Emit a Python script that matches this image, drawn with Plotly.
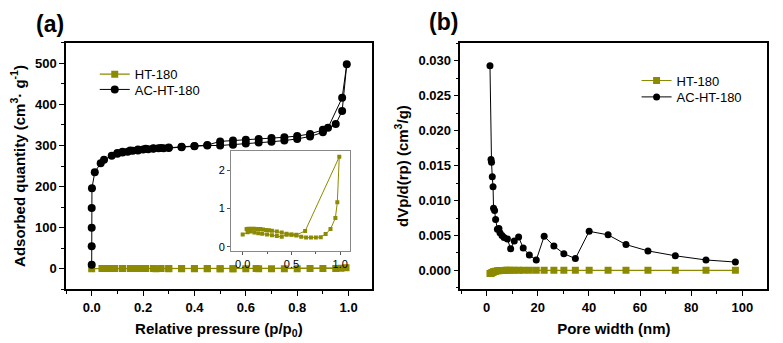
import plotly.graph_objects as go

# ---------- data: panel (a) N2 isotherms ----------
ac_p = [0.0, 0.0, 0.0, 0.0, 0.001, 0.012, 0.035, 0.048, 0.078, 0.10, 0.12, 0.14, 0.16, 0.18, 0.20,
        0.22, 0.24, 0.26, 0.28, 0.30, 0.35, 0.40, 0.45, 0.50, 0.55, 0.60, 0.65, 0.70, 0.75,
        0.80, 0.85, 0.90, 0.95, 0.975, 0.993,
        0.975, 0.92, 0.90, 0.85, 0.80, 0.75, 0.70, 0.65, 0.60, 0.55, 0.50, 0.45, 0.40, 0.35,
        0.30, 0.27, 0.24, 0.21, 0.18, 0.15, 0.12, 0.10]
ac_q = [10, 55, 100, 148, 196, 235, 257, 265, 275, 280, 283, 285, 287, 288, 290,
        291, 292, 293, 293, 294, 296, 298, 300, 300, 302, 305, 307, 309, 312,
        316, 322, 332, 352, 384, 498,
        416, 343, 338, 328, 323, 320, 318, 316, 314, 312, 310, 301, 299, 297,
        295, 294, 293, 292, 290, 288, 285, 282]

ht_p = [0.0, 0.05, 0.08, 0.12, 0.16, 0.20, 0.25, 0.30, 0.35, 0.40, 0.45, 0.50, 0.55, 0.60,
        0.65, 0.70, 0.75, 0.80, 0.85, 0.90, 0.95, 0.97, 0.99,
        0.64, 0.55, 0.50, 0.45, 0.40, 0.35, 0.30, 0.27, 0.24, 0.21, 0.18, 0.15, 0.12, 0.09, 0.06, 0.04]
ht_q = [0.32, 0.38, 0.40, 0.37, 0.35, 0.34, 0.32, 0.30, 0.28, 0.26, 0.31, 0.31, 0.29, 0.26,
        0.24, 0.24, 0.24, 0.25, 0.33, 0.46, 0.75, 1.16, 2.35,
        0.41, 0.31, 0.32, 0.34, 0.37, 0.40, 0.42, 0.43, 0.44, 0.45, 0.46, 0.46, 0.47, 0.47, 0.47, 0.46]

# ---------- data: panel (b) pore size distribution ----------
pw_ac = [1.3, 1.7, 1.9, 2.2, 2.5, 2.7, 3.1, 3.5, 4.2, 4.8, 5.2, 6.0, 6.8, 8.1, 9.4, 10.8, 12.5,
         14.3, 16.7, 19.4, 22.5, 26.3, 30.2, 34.7, 40.1, 47.5, 54.5, 63.1, 73.8, 85.8, 97.3]
dv_ac = [0.0293, 0.0159, 0.0155, 0.0134, 0.0120, 0.0089, 0.0086, 0.0073, 0.0059, 0.0060, 0.0054,
         0.0050, 0.0047, 0.0045, 0.0031, 0.0042, 0.0048, 0.0032, 0.0022, 0.0015, 0.0049, 0.0035,
         0.0024, 0.0017, 0.0056, 0.0051, 0.0037, 0.0028, 0.0021, 0.0015, 0.0012]

pw_ht = [1.3, 1.7, 1.9, 2.2, 2.5, 2.7, 3.1, 3.5, 4.2, 4.8, 5.2, 6.0, 6.8, 7.5, 8.1, 9.4, 10.8,
         12.5, 14.3, 16.7, 19.4, 22.5, 26.3, 30.2, 34.7, 40.1, 47.5, 54.5, 63.1, 73.8, 85.8, 97.3]
dv_ht = [-0.00045, -0.0004, -0.00035, -0.0003, -0.00025, -0.0002, -0.00015, -0.0001, -0.00006,
         -0.00003, -0.00002, 0.0, 0.00001, 0.00002, 0.00002, 0.00002, 0.00002, 0.00002, 0.00002,
         0.00002, 0.00002, 0.00002, 0.00002, 0.00002, 0.00002, 0.00002, 0.00002, 0.00002,
         0.00002, 0.00002, 0.00002, 0.00002]

OLIVE = "#8c8a00"
FONT = "Liberation Sans, Arial, sans-serif"

fig = go.Figure()

# panel (a)
fig.add_trace(go.Scatter(x=ht_p, y=ht_q, mode="lines+markers", name="HT-180",
                         line=dict(color=OLIVE, width=1.2),
                         marker=dict(symbol="square", size=7, color=OLIVE),
                         xaxis="x", yaxis="y", legend="legend"))
fig.add_trace(go.Scatter(x=ac_p, y=ac_q, mode="lines+markers", name="AC-HT-180",
                         line=dict(color="black", width=1),
                         marker=dict(symbol="circle", size=8, color="black"),
                         xaxis="x", yaxis="y", legend="legend2"))
# inset
fig.add_trace(go.Scatter(x=ht_p, y=ht_q, mode="lines+markers", name="HT-180",
                         line=dict(color=OLIVE, width=1),
                         marker=dict(symbol="square", size=4, color=OLIVE),
                         xaxis="x3", yaxis="y3", showlegend=False))
# panel (b)
fig.add_trace(go.Scatter(x=pw_ht, y=dv_ht, mode="lines+markers", name="HT-180",
                         line=dict(color=OLIVE, width=1.2),
                         marker=dict(symbol="square", size=7, color=OLIVE),
                         xaxis="x2", yaxis="y2", legend="legend3"))
fig.add_trace(go.Scatter(x=pw_ac, y=dv_ac, mode="lines+markers", name="AC-HT-180",
                         line=dict(color="black", width=1),
                         marker=dict(symbol="circle", size=7, color="black"),
                         xaxis="x2", yaxis="y2", legend="legend4"))

tickfont = dict(family=FONT, size=13, color="black", weight="bold")
titlefont = dict(family=FONT, size=15, color="black", weight="bold")

def ax(**kw):
    base = dict(showgrid=False, zeroline=False, showline=True, linecolor="black", linewidth=1.5,
                mirror=True, ticks="outside", ticklen=5, tickwidth=1.3, tickcolor="black",
                tickfont=tickfont)
    base.update(kw)
    return base

def leg(x, y):
    return dict(x=x, y=y, xanchor="left", yanchor="middle", bgcolor="rgba(0,0,0,0)",
                font=dict(family=FONT, size=13, color="black"), itemwidth=30)

minor_b = dict(ticks="outside", ticklen=3, tickwidth=1.2, tickcolor="black")

fig.update_layout(
    width=783, height=343, margin=dict(l=0, r=0, t=0, b=0),
    paper_bgcolor="white", plot_bgcolor="white", showlegend=True,
    xaxis=ax(domain=[0.0843, 0.4747], range=[-0.1, 1.09], anchor="y",
             tickvals=[0, 0.2, 0.4, 0.6, 0.8, 1.0], ticktext=["0.0", "0.2", "0.4", "0.6", "0.8", "1.0"],
             minor=dict(dtick=0.1, **minor_b),
             title=dict(text="Relative pressure (p/p<sub>0</sub>)", font=titlefont, standoff=10)),
    yaxis=ax(domain=[0.1516, 0.8746], range=[-50, 550], anchor="x", dtick=100,
             minor=dict(dtick=50, **minor_b),
             title=dict(text="Adsorbed quantity (cm<sup>3</sup>· g<sup>-1</sup>)", font=titlefont, standoff=6)),
    xaxis2=ax(domain=[0.5879, 0.98], range=[-10.3, 109.8], anchor="y2", dtick=20,
              minor=dict(dtick=10, **minor_b),
              title=dict(text="Pore width (nm)", font=titlefont, standoff=10)),
    yaxis2=ax(domain=[0.1516, 0.8746], range=[-0.0027, 0.0326], anchor="x2", dtick=0.005,
              tickformat=".3f", minor=dict(dtick=0.0025, **minor_b),
              title=dict(text="dVp/d(rp) (cm<sup>3</sup>/g)", font=titlefont, standoff=6)),
    xaxis3=ax(domain=[0.295, 0.447], range=[-0.12, 1.1], anchor="y3", linecolor="#888888",
              linewidth=1, tickcolor="#555555", ticklen=3,
              tickvals=[0, 0.5, 1.0], ticktext=["0.0", "0.5", "1.0"],
              minor=dict(dtick=0.25, ticks="outside", ticklen=2, tickcolor="#555555"),
              tickfont=dict(family=FONT, size=11, color="black")),
    yaxis3=ax(domain=[0.2653, 0.5569], range=[-0.1, 2.5], anchor="x3", linecolor="#888888",
              linewidth=1, tickcolor="#555555", ticklen=3, dtick=1,
              tickfont=dict(family=FONT, size=11, color="black")),
    legend=leg(0.121, 0.7822),
    legend2=leg(0.121, 0.7376),
    legend3=leg(0.813, 0.7638),
    legend4=leg(0.813, 0.7157),
    annotations=[
        dict(text="(a)", x=34 / 783, y=1 - 24 / 343, xref="paper", yref="paper", showarrow=False,
             xanchor="left", yanchor="middle", font=dict(family=FONT, size=23, color="black", weight="bold")),
        dict(text="(b)", x=427 / 783, y=1 - 22 / 343, xref="paper", yref="paper", showarrow=False,
             xanchor="left", yanchor="middle", font=dict(family=FONT, size=23, color="black", weight="bold")),
    ],
)

fig.write_html("out.html")
